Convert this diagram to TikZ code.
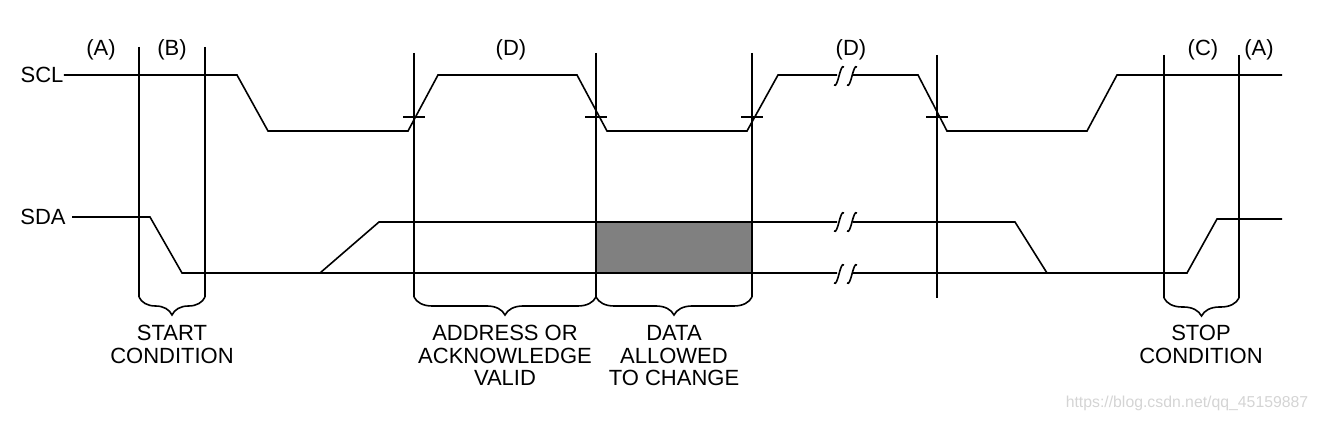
\documentclass[tikz,border=0pt]{standalone}
\usepackage{fontspec}
\setmainfont{Liberation Sans}
\usetikzlibrary{decorations.pathreplacing}
\definecolor{datagray}{HTML}{808080}
\definecolor{markgray}{HTML}{D4D4D4}
\begin{document}
\begin{tikzpicture}[x=0.5pt, y=-0.5pt,
    signal/.style ={line width=0.8pt, line join=miter},
    marker/.style ={line width=0.8pt},
    bracket/.style ={line width=0.8pt, decorate, decoration={brace, mirror, amplitude=9pt}},
    tag/.style ={font=\fontsize{11}{11}\selectfont, inner sep=0pt},
    caption/.style ={font=\fontsize{11}{11.3}\selectfont, align=center, inner sep=0pt, anchor=north}]
   \useasboundingbox (0,0) rectangle (1318,422);
   \fill[datagray] (596,222) rectangle (752,273);
   % signal names and markers
   \node[tag] (scl) at (42,75) {SCL};
   \node[tag] (sda) at (43,217) {SDA};
   \node[tag] (a1) at (101,50) {(A)};
   \node[tag] (b1) at (172,50) {(B)};
   \node[tag] (d1) at (511,50) {(D)};
   \node[tag] (d2) at (851,50) {(D)};
   \node[tag] (c1) at (1203,50) {(C)};
   \node[tag] (a2) at (1259,50) {(A)};
   % SCL
   \draw[signal] (scl.east) -- (237,75) -- (268,131) -- (408,131) -- (438,75) -- (577,75)
      -- (607,131) -- (747,131) -- (778,75) -- (837,75);
   \draw[signal] (853,75) -- (918,75) -- (947,131) -- (1087,131) -- (1117,75) -- (1282,75);
   % SDA
   \draw[signal] (72,217) -- (150,217) -- (182,273) -- (837,273);
   \draw[signal] (320,273) -- (379,222) -- (837,222);
   \draw[signal] (853,222) -- (1015,222) -- (1047,273);
   \draw[signal] (853,273) -- (1187,273) -- (1217,219) -- (1282,219);
   % breaks
   \foreach \y in {76,222,274}
     \foreach \x in {839,852}
       \draw[marker] (\x-5,\y+9) .. controls (\x-1,\y+13) and (\x+1,\y-13) .. (\x+5,\y-9);
   % vertical markers
   \foreach \x in {139,205} \draw[marker] (\x,47) -- (\x,297);
   \foreach \x in {414,596,752} \draw[marker] (\x,53) -- (\x,297);
   \foreach \x in {937,1164,1239} \draw[marker] (\x,55) -- (\x,298);
   \foreach \x in {414,596,752,937} \draw[marker] (\x-11,117) -- (\x+11,117);
   % braces
   \draw[bracket] (139,297) -- (205,297);
   \draw[bracket] (414,297) -- (596,297);
   \draw[bracket] (596,297) -- (752,297);
   \draw[bracket] (1164,298) -- (1239,298);
   \node[caption] (start) at (172,325) {START\\CONDITION};
   \node[caption] (valid) at (505,325) {ADDRESS OR\\ACKNOWLEDGE\\VALID};
   \node[caption] (change) at (674,325) {DATA\\ALLOWED\\TO CHANGE};
   \node[caption] (stop) at (1201,325) {STOP\\CONDITION};
   \node[font=\fontsize{7.9}{8}\selectfont, text=markgray, inner sep=0pt] (mark) at (1187,403)
      {https://blog.csdn.net/qq\_45159887};
 \end{tikzpicture}
\end{document}
